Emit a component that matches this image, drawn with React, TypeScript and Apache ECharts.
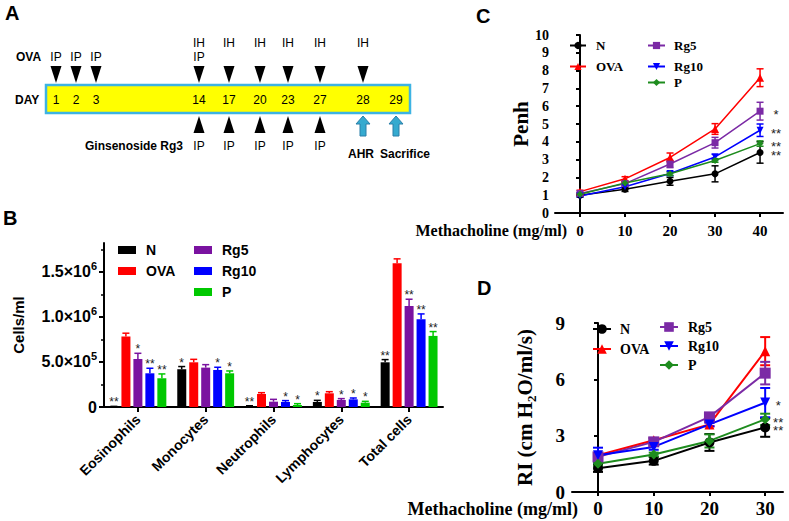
import React, { useEffect, useRef } from 'react';
import * as echarts from 'echarts';

// ---------------- Panel A: protocol schedule ----------------
const scheduleDays = ['1', '2', '3', '14', '17', '20', '23', '27', '28', '29'];
const ovaInhaled = ['', '', '', 'IH', 'IH', 'IH', 'IH', 'IH', 'IH', ''];
const ovaInjected = ['IP', 'IP', 'IP', 'IP', '', '', '', '', '', ''];
const ovaGiven = [1, 1, 1, 1, 1, 1, 1, 1, 1, 0];
const rg3Given = ['', '', '', 'IP', 'IP', 'IP', 'IP', 'IP', '', ''];
const endpoints = ['', '', '', '', '', '', '', '', 'AHR', 'Sacrifice'];

// ---------------- Panel B: BALF cells ----------------
const cellTypes = ['Eosinophils', 'Monocytes', 'Neutrophils', 'Lymphocytes', 'Total cells'];
const groupNames = ['N', 'OVA', 'Rg5', 'Rg10', 'P'];
const cellsN = [5000, 419000, 11000, 56000, 496000];
const cellsOVA = [781000, 496000, 144000, 152000, 1596000];
const cellsRg5 = [533000, 437000, 59000, 78000, 1122000];
const cellsRg10 = [374000, 411000, 56000, 85000, 974000];
const cellsP = [319000, 374000, 22000, 48000, 789000];
const cellsErrN = [2000, 30000, 3000, 18000, 30000];
const cellsErrOVA = [38000, 33000, 15000, 18000, 48000];
const cellsErrRg5 = [63000, 33000, 26000, 15000, 74000];
const cellsErrRg10 = [56000, 30000, 15000, 15000, 59000];
const cellsErrP = [48000, 26000, 15000, 15000, 48000];
const cellsStarsN = ['**', '*', '**', '*', '**'];
const cellsStarsOVA = ['', '', '', '', ''];
const cellsStarsRg5 = ['*', '', '', '*', '**'];
const cellsStarsRg10 = ['**', '*', '*', '*', '**'];
const cellsStarsP = ['**', '*', '*', '*', '**'];
const cellTicks = [0, 500000, 1000000, 1500000];
const cellTickMantissa = ['0', '5.0×10', '1.0×10', '1.5×10'];
const cellTickExponent = ['', '5', '6', '6'];
const cellMinorTicks = [250000, 750000, 1250000, 1750000];

// ---------------- Panel C: Penh ----------------
const doseC = [0, 10, 20, 30, 40];
const penhN = [1.0, 1.33, 1.78, 2.2, 3.4];
const penhOVA = [1.2, 1.92, 3.12, 4.72, 7.6];
const penhRg5 = [1.1, 1.65, 2.75, 3.95, 5.72];
const penhRg10 = [0.95, 1.47, 2.22, 3.15, 4.65];
const penhP = [1.05, 1.68, 2.2, 2.95, 3.9];
const penhErrN = [0.1, 0.12, 0.22, 0.45, 0.6];
const penhErrOVA = [0.08, 0.12, 0.25, 0.3, 0.5];
const penhErrRg5 = [0.05, 0.1, 0.2, 0.3, 0.5];
const penhErrRg10 = [0.05, 0.1, 0.12, 0.15, 0.35];
const penhErrP = [0.05, 0.08, 0.1, 0.1, 0.15];
const penhStars = ['**', '', '*', '**', '**'];

// ---------------- Panel D: RI ----------------
const doseD = [0, 10, 20, 30];
const riN = [1.27, 1.66, 2.64, 3.44];
const riOVA = [1.96, 2.76, 3.6, 7.5];
const riRg5 = [1.87, 2.67, 4.0, 6.33];
const riRg10 = [1.96, 2.4, 3.6, 4.76];
const riP = [1.5, 2.0, 2.72, 3.87];
const riErrN = [0.2, 0.2, 0.45, 0.5];
const riErrOVA = [0.1, 0.1, 0.1, 0.75];
const riErrRg5 = [0.15, 0.2, 0.15, 0.6];
const riErrRg10 = [0.4, 0.15, 0.1, 0.78];
const riErrP = [0.1, 0.1, 0.35, 0.3];
const riStars = ['**', '', '', '*', '**'];

// ---------------- styling / layout ----------------
const SANS = '"Liberation Sans", Arial, sans-serif';
const SERIF = '"Liberation Serif", "Times New Roman", serif';
const barColors = ['#000000', '#FF0000', '#7A12A0', '#0000FF', '#00C800'];
const lineColors = ['#000000', '#FF0000', '#7B2AA5', '#0000FF', '#1E8C1E'];
const lineSymbols = ['circle', 'triangle', 'rect', 'path://M0,0L10,0L5,9Z', 'diamond'];
const dayX = [56, 76, 96, 199, 229, 260, 288, 320, 363, 396];

const cellsVals = [cellsN, cellsOVA, cellsRg5, cellsRg10, cellsP];
const cellsErrs = [cellsErrN, cellsErrOVA, cellsErrRg5, cellsErrRg10, cellsErrP];
const cellsStars = [cellsStarsN, cellsStarsOVA, cellsStarsRg5, cellsStarsRg10, cellsStarsP];
const penhVals = [penhN, penhOVA, penhRg5, penhRg10, penhP];
const penhErrs = [penhErrN, penhErrOVA, penhErrRg5, penhErrRg10, penhErrP];
const riVals = [riN, riOVA, riRg5, riRg10, riP];
const riErrs = [riErrN, riErrOVA, riErrRg5, riErrRg10, riErrP];

function buildScheduleGraphics(): any[] {
  const els: any[] = [];
  const txt = (x: number, y: number, text: string, size: number, bold: boolean, align = 'center') => ({
    type: 'text', x, y,
    style: { text, fill: '#000', font: `${bold ? 'bold ' : ''}${size}px ${SANS}`, align, verticalAlign: 'middle' },
  });
  els.push(txt(5, 13, 'A', 20, true, 'left'));
  els.push(txt(16, 57, 'OVA', 12, true, 'left'));
  els.push(txt(15, 100, 'DAY', 12, true, 'left'));
  els.push(txt(183, 146, 'Ginsenoside Rg3', 12, true, 'right'));
  els.push({
    type: 'rect', shape: { x: 46, y: 85, width: 364, height: 28 },
    style: { fill: '#FFFF00', stroke: '#3DB3E3', lineWidth: 2.5 },
  });
  scheduleDays.forEach((d, i) => {
    const x = dayX[i];
    els.push(txt(x, 100, d, 12, false));
    if (ovaInhaled[i]) els.push(txt(x, 43, ovaInhaled[i], 12, false));
    if (ovaInjected[i]) els.push(txt(x, 57, ovaInjected[i], 12, false));
    if (ovaGiven[i]) {
      els.push({ type: 'polygon', shape: { points: [[x - 5.5, 66], [x + 5.5, 66], [x, 83]] }, style: { fill: '#000' } });
    }
    if (rg3Given[i]) {
      els.push({ type: 'polygon', shape: { points: [[x, 116], [x + 5.5, 133], [x - 5.5, 133]] }, style: { fill: '#000' } });
      els.push(txt(x, 146, rg3Given[i], 12, false));
    }
    if (endpoints[i]) {
      els.push({
        type: 'polygon',
        shape: { points: [[x, 116], [x + 7, 124], [x + 3, 124], [x + 3, 136], [x - 3, 136], [x - 3, 124], [x - 7, 124]] },
        style: { fill: '#35AACF', stroke: '#2A7FA8', lineWidth: 1 },
      });
    }
  });
  els.push(txt(361, 154, endpoints[8], 12, true));
  els.push(txt(380, 154, endpoints[9], 12, true, 'left'));
  return els;
}

function errRender(stars: string[], colors: string[], cap: number, lw: number, starDx: number, starSize: number, lastIdx: number, both: boolean) {
  return (params: any, api: any) => {
    const x = api.value(0), v = api.value(1), e = api.value(2), g = api.value(3), j = api.value(4);
    const pt = api.coord([x, v]);
    const hi = api.coord([x, v + e]);
    const lo = api.coord([x, both ? v - e : v]);
    const col = colors[g];
    const st = { stroke: col, lineWidth: lw };
    const children: any[] = [
      { type: 'line', shape: { x1: pt[0], y1: lo[1], x2: pt[0], y2: hi[1] }, style: st },
      { type: 'line', shape: { x1: pt[0] - cap, y1: hi[1], x2: pt[0] + cap, y2: hi[1] }, style: st },
    ];
    if (both) children.push({ type: 'line', shape: { x1: pt[0] - cap, y1: lo[1], x2: pt[0] + cap, y2: lo[1] }, style: st });
    if (j === lastIdx && stars[g]) {
      children.push({
        type: 'text', x: pt[0] + starDx, y: pt[1] + 3,
        style: { text: stars[g], fill: '#222', font: `${starSize}px ${SANS}`, lineHeight: 7, align: 'center', verticalAlign: 'middle' },
      });
    }
    return { type: 'group', children };
  };
}

function buildOption(): any {
  const barStep = 12;
  const barErrRows: number[][] = [];
  cellsVals.forEach((vals, g) => vals.forEach((v, c) => barErrRows.push([c, v + cellsErrs[g][c], v, g])));
  const penhRows: number[][] = [];
  penhVals.forEach((vals, g) => vals.forEach((v, j) => penhRows.push([doseC[j], v, penhErrs[g][j], g, j])));
  const riRows: number[][] = [];
  riVals.forEach((vals, g) => vals.forEach((v, j) => riRows.push([doseD[j], v, riErrs[g][j], g, j])));

  const axisLineBlack = { show: true, lineStyle: { color: '#000', width: 2 } };
  const legendBase = (names: string[], left: number, top: number, prefixLen: number, font: string, size: number, iw: number, ih: number, gap: number, pad: number, icon?: string) => ({
    orient: 'vertical', left, top, padding: 0, data: names, itemWidth: iw, itemHeight: ih, itemGap: gap,
    selectedMode: false, icon,
    formatter: (n: string) => n.slice(prefixLen),
    textStyle: { fontFamily: font, fontWeight: 'bold', fontSize: size, color: '#000', padding: [0, 0, 0, pad] },
  });

  const series: any[] = [];
  groupNames.forEach((g, i) => {
    series.push({
      type: 'bar', name: 'B:' + g, xAxisIndex: 0, yAxisIndex: 0, data: cellsVals[i],
      barWidth: 9, barGap: '33%', itemStyle: { color: barColors[i] },
    });
  });
  series.push({
    type: 'custom', xAxisIndex: 0, yAxisIndex: 0, data: barErrRows, encode: { x: 0, y: 1 }, z: 4,
    renderItem: (params: any, api: any) => {
      const c = api.value(0), top = api.value(1), base = api.value(2), g = api.value(3);
      const p0 = api.coord([c, base]);
      const p1 = api.coord([c, top]);
      const x = p0[0] + (g - 2) * barStep;
      const st = { stroke: barColors[g], lineWidth: 1.5 };
      const star = cellsStars[g][c];
      const children: any[] = [
        { type: 'line', shape: { x1: x, y1: p0[1], x2: x, y2: p1[1] }, style: st },
        { type: 'line', shape: { x1: x - 3.5, y1: p1[1], x2: x + 3.5, y2: p1[1] }, style: st },
      ];
      if (star) children.push({
        type: 'text', x, y: p1[1] + 2,
        style: { text: star, fill: '#222', font: `12px ${SANS}`, align: 'center', verticalAlign: 'bottom' },
      });
      return { type: 'group', children };
    },
  });

  groupNames.forEach((g, i) => {
    series.push({
      type: 'line', name: 'C:' + g, xAxisIndex: 1, yAxisIndex: 2,
      data: doseC.map((d, j) => [d, penhVals[i][j]]),
      symbol: lineSymbols[i], symbolSize: i === 1 ? 8 : 7, showSymbol: true,
      lineStyle: { width: 1.5, color: lineColors[i] }, itemStyle: { color: lineColors[i] }, z: 5,
    });
  });
  series.push({
    type: 'custom', xAxisIndex: 1, yAxisIndex: 2, data: penhRows, encode: { x: 0, y: 1 }, z: 4,
    renderItem: errRender(penhStars, lineColors, 3.5, 1.5, 16, 13, 4, true),
  });

  groupNames.forEach((g, i) => {
    series.push({
      type: 'line', name: 'D:' + g, xAxisIndex: 2, yAxisIndex: 3,
      data: doseD.map((d, j) => [d, riVals[i][j]]),
      symbol: lineSymbols[i], symbolSize: i === 2 ? 11 : 10, showSymbol: true,
      lineStyle: { width: 2, color: lineColors[i] }, itemStyle: { color: lineColors[i] }, z: 5,
    });
  });
  series.push({
    type: 'custom', xAxisIndex: 2, yAxisIndex: 3, data: riRows, encode: { x: 0, y: 1 }, z: 4,
    renderItem: errRender(riStars, lineColors, 5, 2, 13, 13, 3, true),
  });

  const serifBold = (size: number) => ({ fontFamily: SERIF, fontWeight: 'bold', fontSize: size, color: '#000' });

  return {
    animation: false,
    backgroundColor: '#ffffff',
    grid: [
      { left: 104, top: 243, width: 339, height: 164 },
      { left: 555, top: 35, width: 228, height: 178 },
      { left: 572, top: 323, width: 211, height: 169 },
    ],
    xAxis: [
      {
        type: 'category', gridIndex: 0, data: cellTypes,
        axisLine: axisLineBlack,
        axisTick: { show: true, alignWithLabel: true, length: 5, lineStyle: { color: '#000', width: 2 } },
        axisLabel: { rotate: 45, margin: 10, fontFamily: SANS, fontWeight: 'bold', fontSize: 14, color: '#000' },
      },
      {
        type: 'value', gridIndex: 1, min: -5.56, max: 45.1,
        axisLine: axisLineBlack, splitLine: { show: false },
        axisTick: { show: true, length: 4, customValues: doseC, lineStyle: { color: '#000', width: 2 } },
        axisLabel: { customValues: doseC, margin: 10, ...serifBold(15) },
      },
      {
        type: 'value', gridIndex: 2, min: -4.67, max: 33.2,
        axisLine: axisLineBlack, splitLine: { show: false },
        axisTick: { show: true, length: 4, customValues: doseD, lineStyle: { color: '#000', width: 2 } },
        axisLabel: { customValues: doseD, margin: 7, ...serifBold(19) },
      },
    ],
    yAxis: [
      {
        type: 'value', gridIndex: 0, position: 'left', min: 0, max: 1820000,
        axisLine: axisLineBlack, splitLine: { show: false },
        axisTick: { show: true, length: 5, customValues: cellTicks, lineStyle: { color: '#000', width: 2 } },
        axisLabel: {
          customValues: cellTicks, margin: 7,
          formatter: (v: number) => {
            const k = cellTicks.indexOf(v);
            if (k < 0) return '';
            return cellTickExponent[k] ? `{b|${cellTickMantissa[k]}}{s|${cellTickExponent[k]}}` : `{b|${cellTickMantissa[k]}}`;
          },
          rich: {
            b: { fontFamily: SANS, fontWeight: 'bold', fontSize: 16, color: '#000', lineHeight: 22 },
            s: { fontFamily: SANS, fontWeight: 'bold', fontSize: 11, color: '#000', lineHeight: 11, verticalAlign: 'top' },
          },
        },
        name: 'Cells/ml', nameLocation: 'middle', nameGap: 78,
        nameTextStyle: { fontFamily: SANS, fontWeight: 'bold', fontSize: 15, color: '#000' },
      },
      {
        type: 'value', gridIndex: 0, position: 'left', offset: 0, min: 0, max: 1820000,
        axisLine: { show: false }, splitLine: { show: false }, axisLabel: { show: false },
        axisTick: { show: true, length: 3, customValues: cellMinorTicks, lineStyle: { color: '#000', width: 1.5 } },
      },
      {
        type: 'value', gridIndex: 1, min: 0, max: 10, interval: 1,
        axisLine: axisLineBlack, splitLine: { show: false },
        axisTick: { show: true, length: 4, lineStyle: { color: '#000', width: 2 } },
        axisLabel: { margin: 6, ...serifBold(14) },
        name: 'Penh', nameLocation: 'middle', nameGap: 24,
        nameTextStyle: serifBold(21),
      },
      {
        type: 'value', gridIndex: 2, min: 0, max: 9, interval: 3,
        axisLine: axisLineBlack, splitLine: { show: false },
        axisTick: { show: true, length: 4, lineStyle: { color: '#000', width: 2 } },
        axisLabel: { margin: 7, ...serifBold(19) },
        name: '{a|RI (cm H}{s|2}{a|O/ml/s)}', nameLocation: 'middle', nameGap: 34,
        nameTextStyle: {
          rich: {
            a: { ...serifBold(21), lineHeight: 26 },
            s: { ...serifBold(13), lineHeight: 16, verticalAlign: 'bottom' },
          },
        },
      },
    ],
    legend: [
      legendBase(['B:N', 'B:OVA'], 118, 243, 2, SANS, 14, 18, 8, 7, 5, 'rect'),
      legendBase(['B:Rg5', 'B:Rg10', 'B:P'], 194, 243, 2, SANS, 14, 18, 8, 7, 5, 'rect'),
      legendBase(['C:N', 'C:OVA'], 569, 39, 2, SERIF, 13, 16, 9, 8, 5),
      legendBase(['C:Rg5', 'C:Rg10'], 647, 39, 2, SERIF, 13, 17, 9, 8, 4),
      legendBase(['C:P'], 647, 76, 2, SERIF, 13, 17, 9, 8, 4),
      legendBase(['D:N', 'D:OVA'], 592, 322, 2, SERIF, 14, 18, 12, 6, 4),
      legendBase(['D:Rg5', 'D:Rg10', 'D:P'], 659, 320, 2, SERIF, 14, 18, 12, 5, 5),
    ],
    graphic: [
      ...buildScheduleGraphics(),
      { type: 'text', x: 3, y: 218, style: { text: 'B', fill: '#000', font: `bold 20px ${SANS}`, align: 'left', verticalAlign: 'middle' } },
      { type: 'text', x: 476, y: 16, style: { text: 'C', fill: '#000', font: `bold 20px ${SANS}`, align: 'left', verticalAlign: 'middle' } },
      { type: 'text', x: 477, y: 288, style: { text: 'D', fill: '#000', font: `bold 20px ${SANS}`, align: 'left', verticalAlign: 'middle' } },
      { type: 'text', x: 567, y: 230, style: { text: 'Methacholine (mg/ml)', fill: '#000', font: `bold 16px ${SERIF}`, align: 'right', verticalAlign: 'middle' } },
      { type: 'text', x: 578, y: 509, style: { text: 'Methacholine (mg/ml)', fill: '#000', font: `bold 18px ${SERIF}`, lineHeight: 15, align: 'right', verticalAlign: 'middle' } },
    ],
    series,
  };
}

export default function App() {
  const ref = useRef<HTMLDivElement>(null);
  useEffect(() => {
    if (!ref.current) return;
    const chart = echarts.init(ref.current, undefined, { renderer: 'svg' });
    chart.setOption(buildOption());
    return () => chart.dispose();
  }, []);
  return <div ref={ref} style={{ position: 'absolute', left: 0, top: 0, width: 789, height: 521, background: '#fff' }} />;
}
